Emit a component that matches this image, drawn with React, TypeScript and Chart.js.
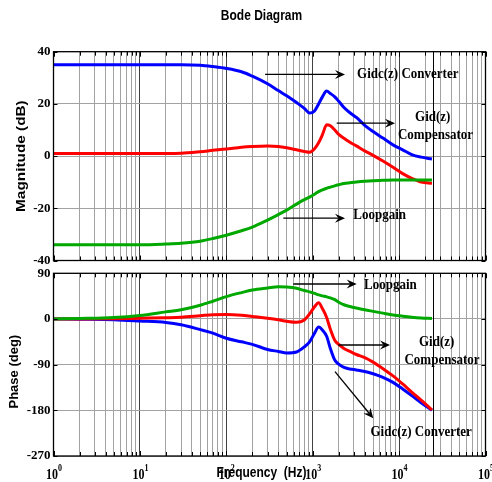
import React, { useEffect, useRef } from 'react';
import { Chart, registerables } from 'chart.js';

Chart.register(...registerables);

// ---------- data ----------
const freqs = [1, 2, 5, 10, 20, 30, 50, 70, 100, 150, 200, 300, 400, 500, 650, 800, 920, 1050, 1170, 1300, 1450, 1600, 1800, 2000, 2300, 2700, 3200, 4000, 5000, 6500, 8500, 11000, 14000, 18000, 24000];

const converterMag = [35, 35, 35, 35, 35, 35, 34.8, 34.3, 33.6, 32.3, 30.6, 27.7, 25.1, 23.1, 20.5, 18.3, 16.5, 17.3, 20.0, 22.8, 24.9, 24.0, 22.7, 21.0, 18.6, 16.6, 14.8, 11.8, 9.4, 6.9, 4.3, 2.4, 0.6, -0.4, -1.1];
const compensatorMag = [1.0, 1.0, 1.0, 1.0, 1.0, 1.1, 1.7, 2.2, 2.7, 3.4, 3.7, 3.9, 3.7, 3.2, 2.4, 1.8, 1.5, 2.8, 5.1, 8.3, 12.0, 11.6, 10.0, 8.3, 6.8, 5.3, 3.9, 2.0, 0.3, -1.9, -4.3, -6.7, -8.5, -9.9, -10.4];
const loopgainMag = [-34, -34, -34, -34, -33.7, -33.4, -32.6, -31.6, -30.3, -28.6, -27.2, -24.5, -22.4, -20.7, -18.4, -16.7, -15.7, -14.6, -13.6, -12.9, -12.3, -11.9, -11.4, -11.0, -10.5, -10.2, -9.9, -9.6, -9.4, -9.3, -9.2, -9.2, -9.2, -9.2, -9.2];

const converterPhase = [0, -0.5, -1.5, -4, -7, -11.5, -21, -28, -38, -45, -50, -60, -64, -67, -65, -55, -45, -28, -16, -22, -34, -58, -81, -89, -95.5, -98.5, -100.5, -103.5, -108, -115, -125, -138, -151, -165, -180];
const compensatorPhase = [0, 0, 0.5, 1.5, 2.5, 3.5, 6.5, 8.5, 9, 7.5, 5, 1.5, -1.5, -4.5, -6.5, -2, 10, 24, 32, 20, 3, -20, -42, -50, -58, -64, -70, -76, -85, -98, -112, -128, -144, -160, -179];
const loopgainPhase = [0, 1, 3, 7, 14, 18, 27, 35, 44, 52, 57, 61, 63.5, 63, 60.5, 56, 53.5, 50.5, 47.5, 45.5, 43.5, 41.5, 38, 33, 28, 24.5, 21.5, 18, 15, 11.5, 8, 5.5, 3.5, 2, 1];

const magTicks = [-40, -20, 0, 20, 40];
const phaseTicks = [-270, -180, -90, 0, 90];
const decades = [1, 10, 100, 1000, 10000, 100000];
const decadeExponents = ['0', '1', '2', '3', '4', '5'];
const nyquistHz = 24500;

// ---------- annotations (frequency, value) ----------
type Ann =
  | { kind: 'arrow'; from: [number, number]; to: [number, number] }
  | { kind: 'text'; at: [number, number]; text: string; align: CanvasTextAlign };

const magAnnotations: Ann[] = [
  { kind: 'arrow', from: [281, 31.3], to: [2366, 31.3] },
  { kind: 'text', at: [3258, 31.5], text: 'Gidc(z) Converter', align: 'left' },
  { kind: 'arrow', from: [1896, 12.6], to: [8970, 12.6] },
  { kind: 'text', at: [24500, 14.9], text: 'Gid(z)', align: 'center' },
  { kind: 'text', at: [26400, 8.1], text: 'Compensator', align: 'center' },
  { kind: 'arrow', from: [457, -23.8], to: [2366, -23.8] },
  { kind: 'text', at: [2950, -22.6], text: 'Loopgain', align: 'left' },
];

const phaseAnnotations: Ann[] = [
  { kind: 'arrow', from: [596, 68.9], to: [3230, 68.9] },
  { kind: 'text', at: [3925, 67], text: 'Loopgain', align: 'left' },
  { kind: 'arrow', from: [1978, -51.3], to: [7850, -51.3] },
  { kind: 'text', at: [27200, -44.8], text: 'Gid(z)', align: 'center' },
  { kind: 'text', at: [31400, -80.8], text: 'Compensator', align: 'center' },
  { kind: 'arrow', from: [1811, -103.9], to: [5025, -195.7] },
  { kind: 'text', at: [18000, -223.3], text: 'Gidc(z) Converter', align: 'center' },
];

// ---------- styling ----------
const W = 492;
const H = 482;
const SANS = '"Liberation Sans", Arial, sans-serif';
const SERIF = '"Liberation Serif", "Times New Roman", serif';
const BLUE = '#0000ff';
const RED = '#ff0000';
const GREEN = '#00a800';
const MINOR_GRID = '#a2a2a2';
const MAJOR_GRID = '#404040';

function buildFreqGrid(): number[] {
  const out: number[] = [];
  for (let i = 0; i < decades.length - 1; i++) {
    for (let m = 1; m <= 9; m++) out.push(decades[i] * m);
  }
  out.push(decades[decades.length - 1]);
  return out;
}
const freqGrid = buildFreqGrid();

function isDecade(v: number | undefined): boolean {
  if (v === undefined || v <= 0) return false;
  const l = Math.log10(v);
  return Math.abs(l - Math.round(l)) < 1e-9;
}

function txt(
  ctx: CanvasRenderingContext2D,
  s: string,
  x: number,
  y: number,
  font: string,
  align: CanvasTextAlign,
  sx = 1,
  sy = 1,
  rot = 0,
  baseline: CanvasTextBaseline = 'middle'
) {
  ctx.save();
  ctx.translate(x, y);
  if (rot) ctx.rotate(rot);
  ctx.scale(sx, sy);
  ctx.font = font;
  ctx.textAlign = align;
  ctx.textBaseline = baseline;
  ctx.fillStyle = '#000';
  ctx.fillText(s, 0, 0);
  ctx.restore();
}

function arrow(ctx: CanvasRenderingContext2D, x1: number, y1: number, x2: number, y2: number) {
  const ang = Math.atan2(y2 - y1, x2 - x1);
  const L = 10;
  const hw = 4.5;
  const notch = 6.5;
  ctx.save();
  ctx.strokeStyle = '#000';
  ctx.fillStyle = '#000';
  ctx.lineWidth = 1.3;
  ctx.beginPath();
  ctx.moveTo(x1, y1);
  ctx.lineTo(x2 - notch * Math.cos(ang), y2 - notch * Math.sin(ang));
  ctx.stroke();
  ctx.translate(x2, y2);
  ctx.rotate(ang);
  ctx.beginPath();
  ctx.moveTo(0, 0);
  ctx.lineTo(-L, -hw);
  ctx.lineTo(-notch, 0);
  ctx.lineTo(-L, hw);
  ctx.closePath();
  ctx.fill();
  ctx.restore();
}

function makeOverlay(kind: 'mag' | 'phase') {
  const isMag = kind === 'mag';
  return {
    id: 'bodeOverlay_' + kind,
    afterDraw(chart: any) {
      const ctx: CanvasRenderingContext2D = chart.ctx;
      const a = chart.chartArea;
      const xs = chart.scales.x;
      const ys = chart.scales.y;
      const yTicks = isMag ? magTicks : phaseTicks;
      ctx.save();
      ctx.strokeStyle = '#000';
      ctx.lineWidth = 1;
      const seg = (x1: number, y1: number, x2: number, y2: number) => {
        ctx.beginPath();
        ctx.moveTo(x1, y1);
        ctx.lineTo(x2, y2);
        ctx.stroke();
      };
      // sampling limit line
      const nx = Math.round(xs.getPixelForValue(nyquistHz)) + 0.5;
      seg(nx, a.top, nx, a.bottom);
      // inward tick marks
      for (const v of freqGrid) {
        const px = Math.round(xs.getPixelForValue(v)) + 0.5;
        const len = isDecade(v) ? 5 : 4;
        seg(px, a.top, px, a.top + len);
        seg(px, a.bottom, px, a.bottom - len);
      }
      for (const v of yTicks) {
        const py = Math.round(ys.getPixelForValue(v)) + 0.5;
        seg(a.left, py, a.left + 4, py);
        seg(a.right, py, a.right - 4, py);
      }
      // box
      ctx.lineWidth = 1.3;
      ctx.strokeRect(a.left, a.top, a.right - a.left, a.bottom - a.top);
      ctx.restore();

      // y tick labels
      for (const v of yTicks) {
        txt(ctx, String(v), a.left - 3, ys.getPixelForValue(v), 'bold 13px ' + SERIF, 'right');
      }

      if (isMag) {
        txt(ctx, 'Bode Diagram', (a.left + a.right) / 2 - 8, 16, 'bold 12px ' + SANS, 'center', 1, 1.2);
        txt(ctx, 'Magnitude (dB)', 21.5, (a.top + a.bottom) / 2, 'bold 13px ' + SANS, 'center', 1.18, 1, -Math.PI / 2);
      } else {
        txt(ctx, 'Phase (deg)', 14, (a.top + a.bottom) / 2 + 7, 'bold 13px ' + SANS, 'center', 1.0, 1, -Math.PI / 2);
        decades.forEach((d, i) => {
          const px = xs.getPixelForValue(d);
          txt(ctx, '10', px - 7.5, 478.5, 'bold 12px ' + SERIF, 'left', 1, 1.2, 0, 'alphabetic');
          txt(ctx, decadeExponents[i], px + 4.5, 470.5, 'bold 8px ' + SERIF, 'left', 1, 1.2, 0, 'alphabetic');
        });
        txt(ctx, 'Frequency  (Hz)', (a.left + a.right) / 2 - 8, 473.5, 'bold 12px ' + SANS, 'center', 1, 1.2);
      }

      // annotations
      const anns = isMag ? magAnnotations : phaseAnnotations;
      for (const an of anns) {
        if (an.kind === 'arrow') {
          arrow(
            ctx,
            xs.getPixelForValue(an.from[0]),
            ys.getPixelForValue(an.from[1]),
            xs.getPixelForValue(an.to[0]),
            ys.getPixelForValue(an.to[1])
          );
        } else {
          txt(ctx, an.text, xs.getPixelForValue(an.at[0]), ys.getPixelForValue(an.at[1]), 'bold 13px ' + SERIF, an.align, 1, 1.15);
        }
      }
    },
  };
}

function makeConfig(kind: 'mag' | 'phase'): any {
  const isMag = kind === 'mag';
  const series: [string, number[], string][] = isMag
    ? [
        ['Loopgain', loopgainMag, GREEN],
        ['Gid(z) Compensator', compensatorMag, RED],
        ['Gidc(z) Converter', converterMag, BLUE],
      ]
    : [
        ['Loopgain', loopgainPhase, GREEN],
        ['Gid(z) Compensator', compensatorPhase, RED],
        ['Gidc(z) Converter', converterPhase, BLUE],
      ];
  const yTicks = isMag ? magTicks : phaseTicks;
  const padding = isMag
    ? { left: 53.5, right: W - 485.5, top: 51.7, bottom: H - 260.5 }
    : { left: 53.5, right: W - 485.5, top: 273.3, bottom: H - 456 };

  return {
    type: 'line',
    data: {
      datasets: series.map(([label, vals, color]) => ({
        label,
        data: freqs.map((f, i) => ({ x: f, y: vals[i] })),
        borderColor: color,
        backgroundColor: color,
        borderWidth: 3,
        pointRadius: 0,
        fill: false,
        cubicInterpolationMode: 'monotone',
      })),
    },
    options: {
      responsive: false,
      maintainAspectRatio: false,
      devicePixelRatio: 1,
      animation: false,
      events: [],
      layout: { padding },
      plugins: {
        legend: { display: false },
        tooltip: { enabled: false },
        title: { display: false },
      },
      scales: {
        x: {
          type: 'logarithmic',
          min: decades[0],
          max: decades[decades.length - 1],
          afterBuildTicks: (s: any) => {
            s.ticks = freqGrid.map((v) => ({ value: v }));
          },
          afterFit: (s: any) => {
            s.height = 0;
          },
          ticks: { display: false },
          border: { display: false },
          grid: {
            drawTicks: false,
            lineWidth: 1,
            color: (c: any) => (isDecade(c.tick && c.tick.value) ? MAJOR_GRID : MINOR_GRID),
          },
        },
        y: {
          type: 'linear',
          min: yTicks[0],
          max: yTicks[yTicks.length - 1],
          afterBuildTicks: (s: any) => {
            s.ticks = yTicks.map((v) => ({ value: v }));
          },
          afterFit: (s: any) => {
            s.width = 0;
          },
          ticks: { display: false },
          border: { display: false },
          grid: { drawTicks: false, lineWidth: 1, color: MINOR_GRID },
        },
      },
    },
    plugins: [makeOverlay(kind)],
  };
}

export default function App() {
  const topRef = useRef<HTMLCanvasElement>(null);
  const botRef = useRef<HTMLCanvasElement>(null);

  useEffect(() => {
    if (!topRef.current || !botRef.current) return;
    const c1 = new Chart(topRef.current, makeConfig('mag'));
    const c2 = new Chart(botRef.current, makeConfig('phase'));
    return () => {
      c1.destroy();
      c2.destroy();
    };
  }, []);

  return (
    <div style={{ position: 'absolute', left: 0, top: 0, width: W, height: H, background: '#fff', overflow: 'hidden' }}>
      <canvas ref={topRef} width={W} height={H} style={{ position: 'absolute', left: 0, top: 0 }} />
      <canvas ref={botRef} width={W} height={H} style={{ position: 'absolute', left: 0, top: 0 }} />
    </div>
  );
}
